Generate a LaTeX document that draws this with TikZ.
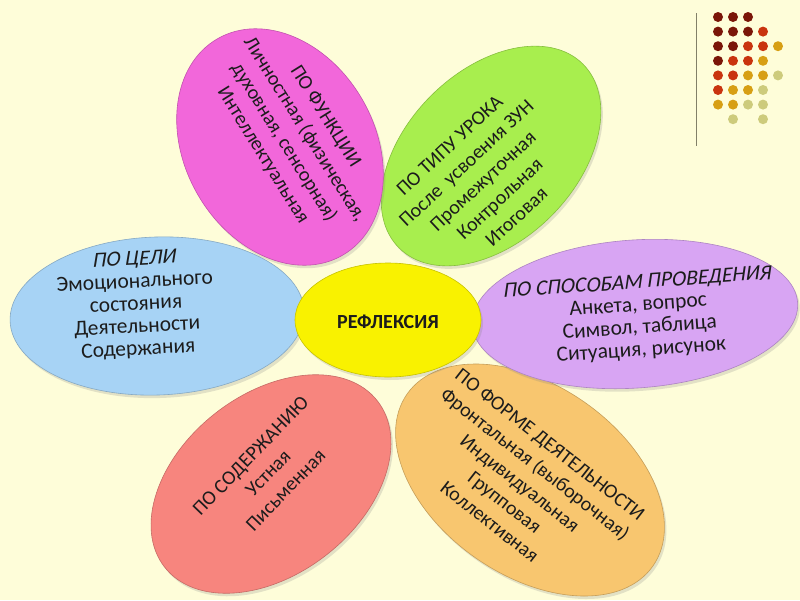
\documentclass[tikz,border=0pt]{standalone}
\usepackage{fontspec}
\setmainfont{Carlito}[AutoFakeSlant=0.22]
\usetikzlibrary{shapes.geometric,shadows}
\definecolor{bg}{HTML}{FEFDD9}
\definecolor{pinkc}{HTML}{F267DA}
\definecolor{greenc}{HTML}{A8EE4E}
\definecolor{bluec}{HTML}{A7D3F5}
\definecolor{purplec}{HTML}{D8A5F3}
\definecolor{redc}{HTML}{F7857E}
\definecolor{orangec}{HTML}{F8C66F}
\definecolor{yellowc}{HTML}{F9F200}
\definecolor{txt}{HTML}{1C1C1C}
\definecolor{dm}{HTML}{7A1608}
\definecolor{dr}{HTML}{C9340E}
\definecolor{dg}{HTML}{D79F14}
\definecolor{dp}{HTML}{CDCB7C}
\definecolor{linec}{HTML}{828068}
\begin{document}
\begin{tikzpicture}[x=1pt,y=-1pt,
  petal/.style={ellipse, inner sep=0pt, draw=#1!80!black, line width=0.6pt, fill=#1,
    drop shadow={opacity=0.22, shadow xshift=2pt, shadow yshift=-3pt}},
  ptext/.style={align=center, text=txt, inner sep=0pt, font=\fontsize{20}{24.5}\selectfont},
  ptextb/.style={ptext, font=\fontsize{21.5}{22.5}\selectfont}]
\fill[bg] (0,0) rectangle (800,600);
\useasboundingbox (0,0) rectangle (800,600);

% petals
\node[petal=orangec, minimum width=300pt, minimum height=190pt, rotate=-35] (orange) at (530,480) {};
\node[petal=redc, minimum width=270pt, minimum height=180pt, rotate=38] (red) at (271,484) {};
\node[petal=purplec, minimum width=326pt, minimum height=148pt, rotate=4] (purple) at (635,314) {};
\node[petal=greenc, minimum width=260pt, minimum height=170pt, rotate=45] (green) at (491,156) {};
\node[petal=pinkc, minimum width=250pt, minimum height=190pt, rotate=-60] (pink) at (280,147) {};
\node[petal=bluec, minimum width=294pt, minimum height=158pt, rotate=2] (blue) at (157,316) {};
\node[petal=yellowc, minimum width=186pt, minimum height=114pt] (core) at (388,320) {};

% texts
\node[ptext, rotate=-58] (tpink) at (294,136) {ПО ФУНКЦИИ\\Личностная (физическая,\\духовная, сенсорная)\\Интеллектуальная};
\node[ptext, rotate=43] (tgreen) at (483,181) {ПО ТИПУ УРОКА\\После~ усвоения ЗУН\\Промежуточная\\Контрольная\\Итоговая};
\node[ptextb, rotate=3] (tblue) at (136,305) {\textit{ПО ЦЕЛИ}\\Эмоционального\\состояния\\Деятельности\\Содержания};
\node[ptextb, rotate=4] (tpurple) at (639,317) {\textit{ПО СПОСОБАМ ПРОВЕДЕНИЯ}\\Анкета, вопрос\\Символ, таблица\\Ситуация, рисунок};
\node[ptext, rotate=46] (tred) at (268,473) {ПО СОДЕРЖАНИЮ\\Устная\\Письменная};
\node[ptext, rotate=-38] (torange) at (520,483) {ПО ФОРМЕ ДЕЯТЕЛЬНОСТИ\\Фронтальная (выборочная)\\Индивидуальная\\Групповая\\Коллективная};
\node[ptext, font=\bfseries\fontsize{20}{24}\selectfont] (tcore) at (388,322) {РЕФЛЕКСИЯ};

% decoration top right
\draw[linec, line width=1.5pt] (696.5,13) -- (696.5,146);
\foreach \c/\r/\k in {1/1/dm,2/1/dm,3/1/dm,
  1/2/dm,2/2/dm,3/2/dm,4/2/dr,
  1/3/dm,2/3/dm,3/3/dr,4/3/dr,5/3/dg,
  1/4/dm,2/4/dr,3/4/dr,4/4/dg,
  1/5/dr,2/5/dr,3/5/dg,4/5/dg,5/5/dp,
  1/6/dr,2/6/dg,3/6/dg,4/6/dp,
  1/7/dg,2/7/dg,3/7/dp,4/7/dp,
  2/8/dp,4/8/dp}
  \fill[\k] ({703+15*\c},{2.4+14.6*\r}) circle (5pt);
\end{tikzpicture}
\end{document}
